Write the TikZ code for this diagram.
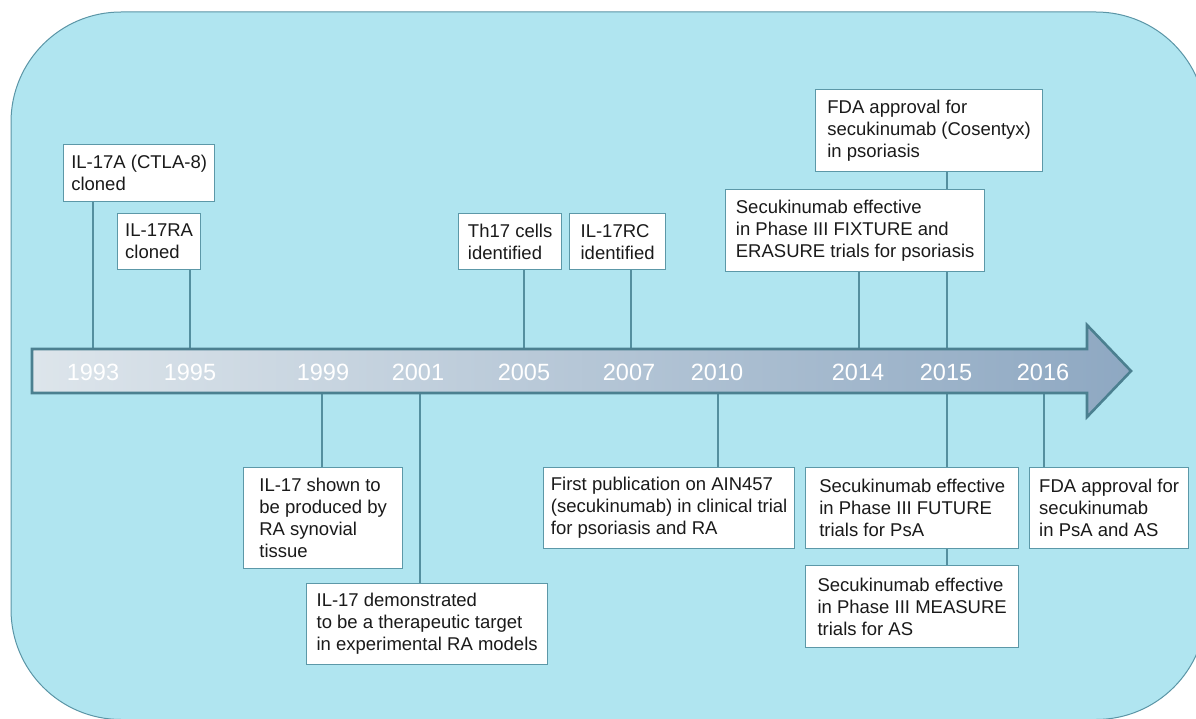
\documentclass[tikz,border=0pt]{standalone}
\usepackage{fontspec}
\setmainfont{Liberation Sans}
\definecolor{bgfill}{HTML}{B0E5F0}
\definecolor{bgline}{HTML}{5A95A6}
\definecolor{boxline}{HTML}{5C98A8}
\definecolor{connline}{HTML}{548F9F}
\definecolor{arrline}{HTML}{4B8090}
\definecolor{arrL}{HTML}{DDE5EB}
\definecolor{arrR}{HTML}{8EA8C2}
\definecolor{txt}{HTML}{1A1A1A}
\begin{document}
\begin{tikzpicture}[x=1pt,y=-1pt,
  box/.style={draw=boxline, line width=1.3pt, fill=white, align=left, inner sep=0pt,
    text=txt, font=\fontsize{18.5}{22}\selectfont, anchor=north west},
  conn/.style={draw=connline, line width=1.3pt},
  yr/.style={text=white, font=\fontsize{23.5}{28}\selectfont, inner sep=0pt}]
\useasboundingbox (0,0) rectangle (1196,719);
% background panel
\draw[fill=bgfill, draw=bgline, line width=1pt, rounded corners=110pt] (11,12) rectangle (1206,719.5);

% arrow edge coordinates
\foreach \n/\x in {1993/93,1995/190,2005/524,2007/631,2014/859,2015/947}
  \coordinate (t\n) at (\x,349);
\foreach \n/\x in {1999/322,2001/420,2010/718,2015/947,2016/1044}
  \coordinate (u\n) at (\x,393);

% boxes
\node[box, minimum width=151, minimum height=57] (b1) at (63,144) {IL-17A (CTLA-8)\\cloned};
\node[box, minimum width=83, minimum height=56] (b2) at (117,213) {IL-17RA\\cloned};
\node[box, minimum width=159, minimum height=101] (b3) at (243,467) {IL-17 shown to\\be produced by\\RA synovial\\tissue};
\node[box, minimum width=241, minimum height=81] (b4) at (306,583) {IL-17 demonstrated\\to be a therapeutic target\\in experimental RA models};
\node[box, minimum width=103, minimum height=56] (b5) at (458,213) {Th17 cells\\identified};
\node[box, minimum width=96, minimum height=56] (b6) at (569,213) {IL-17RC\\identified};
\node[box, minimum width=251, minimum height=81] (b7) at (543,467) {First publication on AIN457\\(secukinumab) in clinical trial\\for psoriasis and RA};
\node[box, minimum width=259, minimum height=82] (b8) at (725,189) {Secukinumab effective\\in Phase III FIXTURE and\\ERASURE trials for psoriasis};
\node[box, minimum width=227, minimum height=82] (b9) at (815,89) {FDA approval for\\secukinumab (Cosentyx)\\in psoriasis};
\node[box, minimum width=213, minimum height=81] (b10) at (805,467) {Secukinumab effective\\in Phase III FUTURE\\trials for PsA};
\node[box, minimum width=213, minimum height=82] (b11) at (805,565) {Secukinumab effective\\in Phase III MEASURE\\trials for AS};
\node[box, minimum width=159, minimum height=81] (b12) at (1029,467) {FDA approval for\\secukinumab\\in PsA and AS};

% connectors
\draw[conn] (b1.south -| t1993) -- (t1993);
\draw[conn] (b2.south -| t1995) -- (t1995);
\draw[conn] (b5.south -| t2005) -- (t2005);
\draw[conn] (b6.south -| t2007) -- (t2007);
\draw[conn] (b8.south -| t2014) -- (t2014);
\draw[conn] (b8.south -| t2015) -- (t2015);
\draw[conn] (b9.south -| t2015) -- (b8.north -| t2015);
\draw[conn] (u1999) -- (b3.north -| u1999);
\draw[conn] (u2001) -- (b4.north -| u2001);
\draw[conn] (u2010) -- (b7.north -| u2010);
\draw[conn] (u2015) -- (b10.north -| u2015);
\draw[conn] (b10.south -| u2015) -- (b11.north -| u2015);
\draw[conn] (u2016) -- (b12.north -| u2016);

% timeline arrow
\draw[arrline, line width=2.6pt, line join=miter, left color=arrL, right color=arrR]
  (32,349) -- (1087,349) -- (1087,325) -- (1131,371) -- (1087,417) -- (1087,393) -- (32,393) -- cycle;

% year labels
\foreach \n/\x in {1993/93,1995/190,1999/323,2001/418,2005/524,2007/629,2010/717,2014/858,2015/946,2016/1043}
  \node[yr] (y\n) at (\x,372) {\n};
\end{tikzpicture}
\end{document}
